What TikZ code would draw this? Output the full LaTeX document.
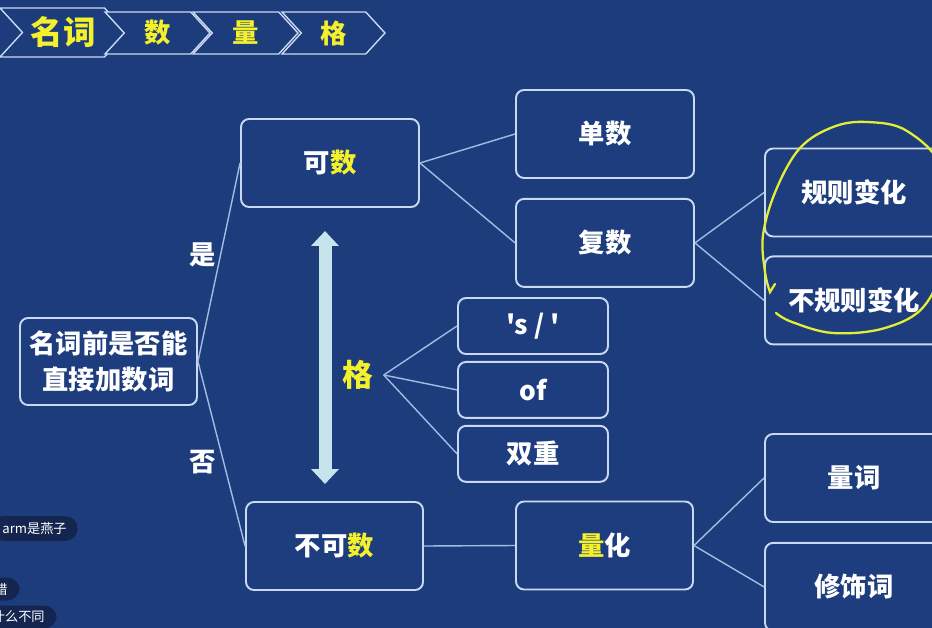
\documentclass[tikz,border=0pt]{standalone}
\usepackage{fontspec}
\setmainfont{Noto Sans CJK SC}[Ligatures=TeXOff]
\usetikzlibrary{
  arrows.meta,
  positioning,
  shapes.symbols
}
\definecolor{bgBlue}{HTML}{1D3C7C}
\definecolor{boxFill}{HTML}{1E3D7F}
\definecolor{boxLine}{HTML}{C9D9F2}
\definecolor{linkBlue}{HTML}{A3BCE2}
\definecolor{hlYellow}{HTML}{F4F02C}
\definecolor{arrowCyan}{HTML}{C6E4EC}
\definecolor{penYellow}{HTML}{E3EE35}
\definecolor{chatFill}{HTML}{14264F}
\newcommand{\hl}[1]{\textcolor{hlYellow}{#1}}
\tikzset{
  box/.style={
    draw=boxLine,
    fill=boxFill,
    rounded corners=0.16cm,
    line width=1.1pt,
    minimum width=3.56cm,
    minimum height=1.76cm,
    inner sep=0pt,
    align=center,
    text=white,
    font=\bfseries\fontsize{15}{20}\selectfont
  },
  smallbox/.style={box, minimum width=3cm, minimum height=1.12cm},
  link/.style={draw=linkBlue, line width=0.8pt},
  tab/.style={
    signal, signal to=east, signal from=west,
    signal pointer angle=95,
    draw=boxLine, fill=bgBlue, line width=0.8pt,
    inner sep=0pt, minimum width=2.1cm, minimum height=0.84cm,
    text=hlYellow, font=\bfseries\fontsize{15}{15}\selectfont
  },
  tag/.style={text=white, font=\bfseries\fontsize{15}{15}\selectfont},
  dbl/.style={
    {Triangle[width=0.54cm,length=0.3cm]}-{Triangle[width=0.54cm,length=0.3cm]},
    line width=0.26cm, draw=arrowCyan
  },
  bubble/.style={
    fill=chatFill, rounded corners=0.25cm, text=white,
    font=\fontsize{7.5}{9}\selectfont,
    minimum height=0.5cm, inner ysep=0pt, anchor=east
  }
}

\begin{document}
\begin{tikzpicture}[x=0.02cm, y=-0.02cm]

\clip (0,0) rectangle (932,628);
\fill[bgBlue] (0,0) rectangle (932,628);

% --- Tab bar ---
\node[tab, minimum width=2.54cm, minimum height=0.98cm,
      font=\bfseries\fontsize{18.5}{18.5}\selectfont] (tabNoun) at (63.5,32.5) {名词};
\node[tab] (tabNum) at (157.5,33) {数};
\node[tab] (tabQty) at (245.5,33) {量};
\node[tab, minimum width=2.06cm] (tabCase) at (333.5,33) {格};

% --- Main tree ---
\node[box, minimum width=3.54cm, minimum height=1.74cm] (root) at (108.5,361.5) {名词前是否能\\直接加数词};

\node[box] (count) at (330,163) {可\hl{数}};
\node[box, minimum width=3.54cm] (uncount) at (334.5,546) {不可\hl{数}};

\node[tag] (yes) at (203,255) {是};
\node[tag] (no) at (203,462) {否};

\node[box] (single) at (605,134) {单数};
\node[box, below=0.38cm of single] (plural) {复数};

\node[box] (regular) at (854,192.5) {规则变化};
\node[box, below=0.36cm of regular] (irregular) {不规则变化};

\node[box, minimum width=3.54cm] (quant) at (604.5,545.5) {\hl{量}化};

\node[box] (measure) at (854,478) {量词};
\node[box, below=0.38cm of measure] (modifier) {修饰词};

% --- Case branch ---
\coordinate (arrTop) at (325,231);
\coordinate (arrBot) at (325,484);
\draw[dbl] (arrTop) -- (arrBot);

\node[text=hlYellow, font=\bfseries\fontsize{17.5}{17.5}\selectfont, inner sep=0.2cm] (case) at (358,375) {格};

\node[smallbox] (poss) at (533,326) {'s / '};
\node[smallbox, below=0.12cm of poss] (of) {of};
\node[smallbox, below=0.12cm of of] (double) {双重};

% --- Connectors ---
\draw[link] (root.east) -- (count.west);
\draw[link] (root.east) -- (uncount.west);
\draw[link] (count.east) -- (single.west);
\draw[link] (count.east) -- (plural.west);
\draw[link] (plural.east) -- (regular.west);
\draw[link] (plural.east) -- (irregular.west);
\draw[link] (uncount.east) -- (quant.west);
\draw[link] (quant.east) -- (measure.west);
\draw[link] (quant.east) -- (modifier.west);
\draw[link] (case.east) -- (poss.west);
\draw[link] (case.east) -- (of.west);
\draw[link] (case.east) -- (double.west);

% --- Pen mark ---
\draw[penYellow, line width=1.3pt, line cap=round]
  plot[smooth, tension=0.6] coordinates {(776,313) (792,322) (833,333) (885,328)
    (925,305) (946,250) (942,170) (907,131) (867,122) (833,127) (800,148)
    (776,190) (763,235) (765,272) (770,292)}
  -- (775,284);

% --- Chat overlay ---
\node[bubble, inner xsep=0.22cm] (chatA) at (78,528.5) {arm是燕子};
\node[bubble, inner xsep=0.24cm, minimum height=0.46cm] (chatB) at (20,589) {错};
\node[bubble, inner xsep=0.24cm, minimum height=0.46cm] (chatC) at (57,617) {什么不同};

\end{tikzpicture}
\end{document}
